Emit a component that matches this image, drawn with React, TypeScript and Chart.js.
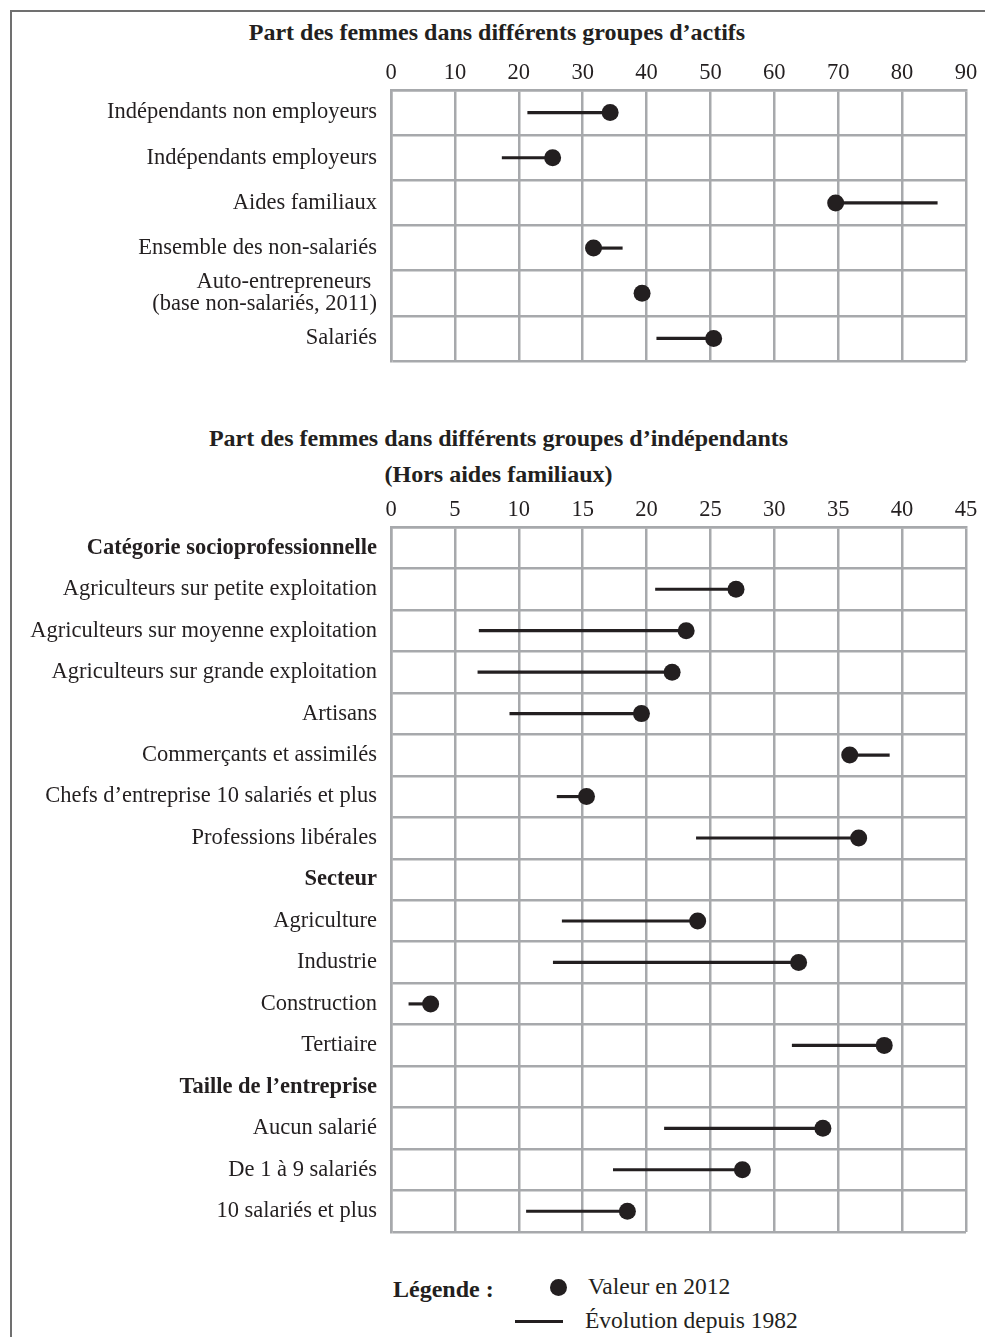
import React, { useEffect, useRef } from 'react';
import { Chart, registerables } from 'chart.js';

Chart.register(...registerables);

const FONT = "'Liberation Serif', 'Times New Roman', serif";
const INK = '#231f20';
const GRID = '#a7a9ac';

// ---- Chart 1: part des femmes dans différents groupes d'actifs ----
const activeTitle = 'Part des femmes dans différents groupes d’actifs';
const activeCategories: (string | string[])[] = [
  'Indépendants non employeurs',
  'Indépendants employeurs',
  'Aides familiaux',
  'Ensemble des non-salariés',
  ['Auto-entrepreneurs ', '(base non-salariés, 2011)'],
  'Salariés',
];
const active2012: (number | null)[] = [34.3, 25.3, 69.6, 31.7, 39.3, 50.5];
const active1982: (number | null)[] = [21.4, 17.4, 85.5, 36.2, null, 41.6];
const activeMax = 90;
const activeStep = 10;

// ---- Chart 2: part des femmes dans différents groupes d'indépendants ----
const indepTitle = 'Part des femmes dans différents groupes d’indépendants';
const indepSubtitle = '(Hors aides familiaux)';
const indepCategories: string[] = [
  'Catégorie socioprofessionnelle',
  'Agriculteurs sur petite exploitation',
  'Agriculteurs sur moyenne exploitation',
  'Agriculteurs sur grande exploitation',
  'Artisans',
  'Commerçants et assimilés',
  'Chefs d’entreprise 10 salariés et plus',
  'Professions libérales',
  'Secteur',
  'Agriculture',
  'Industrie',
  'Construction',
  'Tertiaire',
  'Taille de l’entreprise',
  'Aucun salarié',
  'De 1 à 9 salariés',
  '10 salariés et plus',
];
const indepHeaders: string[] = ['Catégorie socioprofessionnelle', 'Secteur', 'Taille de l’entreprise'];
const indep2012: (number | null)[] = [null, 27.0, 23.1, 22.0, 19.6, 35.9, 15.3, 36.6, null, 24.0, 31.9, 3.1, 38.6, null, 33.8, 27.5, 18.5];
const indep1982: (number | null)[] = [null, 20.7, 6.9, 6.8, 9.3, 39.0, 13.0, 23.9, null, 13.4, 12.7, 1.4, 31.4, null, 21.4, 17.4, 10.6];
const indepMax = 45;
const indepStep = 5;

// ---- Legend ----
const legendTitle = 'Légende :';
const legendDot = 'Valeur en 2012';
const legendLine = 'Évolution depuis 1982';

type Props = {
  labels: (string | string[])[];
  v2012: (number | null)[];
  v1982: (number | null)[];
  max: number;
  step: number;
  headers: string[];
  top: number;
  height: number;
  axisHeight: number;
  tickSize: number;
};

function DumbbellChart(p: Props) {
  const ref = useRef<HTMLCanvasElement | null>(null);
  useEffect(() => {
    if (!ref.current) return;
    const ranges = p.v2012.map((v, i) => {
      const o = p.v1982[i];
      return v == null || o == null ? null : [o, v];
    });
    const chart = new Chart(ref.current, {
      type: 'bar',
      data: {
        labels: p.labels as any,
        datasets: [
          {
            type: 'line',
            label: legendDot,
            data: p.v2012 as any,
            indexAxis: 'y',
            showLine: false,
            pointRadius: 8.5,
            pointHoverRadius: 8.5,
            pointBackgroundColor: INK,
            pointBorderColor: INK,
            pointBorderWidth: 0,
            order: 0,
          } as any,
          {
            type: 'bar',
            label: legendLine,
            data: ranges as any,
            indexAxis: 'y',
            backgroundColor: INK,
            borderWidth: 0,
            barThickness: 2.5,
            order: 1,
          } as any,
        ],
      },
      options: {
        indexAxis: 'y',
        responsive: false,
        animation: false,
        devicePixelRatio: 1,
        layout: { padding: { left: 0, right: 19, top: 0, bottom: 6 } },
        plugins: { legend: { display: false }, tooltip: { enabled: false }, title: { display: false } },
        scales: {
          x: {
            type: 'linear',
            position: 'top',
            min: 0,
            max: p.max,
            afterFit: (s: any) => { s.height = p.axisHeight; },
            ticks: {
              stepSize: p.step,
              padding: 3,
              color: INK,
              font: { family: FONT, size: p.tickSize },
            },
            grid: { color: GRID, lineWidth: 2.5, drawTicks: false },
            border: { color: GRID, width: 2.5 },
          },
          y: {
            type: 'category',
            offset: true,
            afterFit: (s: any) => { s.width = 391; },
            ticks: {
              autoSkip: false,
              padding: 14,
              color: INK,
              font: (ctx: any) => {
                const lab = p.labels[ctx.index];
                const bold = typeof lab === 'string' && p.headers.includes(lab);
                return { family: FONT, size: 22.5, weight: bold ? 'bold' : 'normal', lineHeight: '22px' };
              },
            },
            grid: { color: GRID, lineWidth: 2.5, drawTicks: false, offset: true },
            border: { color: GRID, width: 2.5 },
          },
        },
      } as any,
    });
    return () => chart.destroy();
  }, []);
  return (
    <canvas
      ref={ref}
      width={985}
      height={p.height}
      style={{ position: 'absolute', left: 0, top: p.top, width: 985, height: p.height }}
    />
  );
}

const textStyle = (top: number, left: number | null, bold: boolean, size = 24, lh = 28): React.CSSProperties => ({
  position: 'absolute',
  top: top - lh / 2,
  left: left == null ? 0 : left,
  width: left == null ? 985 : undefined,
  textAlign: left == null ? 'center' : 'left',
  lineHeight: lh + 'px',
  fontFamily: FONT,
  fontSize: size,
  fontWeight: bold ? 'bold' : 'normal',
  color: INK,
  whiteSpace: 'nowrap',
});

export default function App() {
  return (
    <div style={{ position: 'absolute', left: 0, top: 0, width: 985, height: 1337, background: '#fff', overflow: 'hidden' }}>
      <div style={{ position: 'absolute', left: 10, top: 10, width: 2, height: 1327, background: '#707070' }} />
      <div style={{ position: 'absolute', left: 10, top: 10, width: 975, height: 2, background: '#707070' }} />

      <div style={{ ...textStyle(32, null, true), left: 0, width: 994 }}>{activeTitle}</div>
      <DumbbellChart
        labels={activeCategories}
        v2012={active2012}
        v1982={active1982}
        max={activeMax}
        step={activeStep}
        headers={[]}
        top={40}
        height={346}
        axisHeight={50}
        tickSize={22.5}
      />

      <div style={{ ...textStyle(438, null, true), left: 0, width: 997 }}>{indepTitle}</div>
      <div style={{ ...textStyle(474, null, true), left: 0, width: 997 }}>{indepSubtitle}</div>
      <DumbbellChart
        labels={indepCategories}
        v2012={indep2012}
        v1982={indep1982}
        max={indepMax}
        step={indepStep}
        headers={indepHeaders}
        top={480}
        height={777}
        axisHeight={47}
        tickSize={22.5}
      />

      <div style={textStyle(1289, 393, true, 24)}>{legendTitle}</div>
      <div style={{ position: 'absolute', left: 550, top: 1279, width: 17, height: 17, borderRadius: 9, background: INK }} />
      <div style={textStyle(1286, 588, false, 23.5)}>{legendDot}</div>
      <div style={{ position: 'absolute', left: 515, top: 1320, width: 48, height: 2.5, background: INK }} />
      <div style={textStyle(1320, 585, false, 23.5)}>{legendLine}</div>
    </div>
  );
}
